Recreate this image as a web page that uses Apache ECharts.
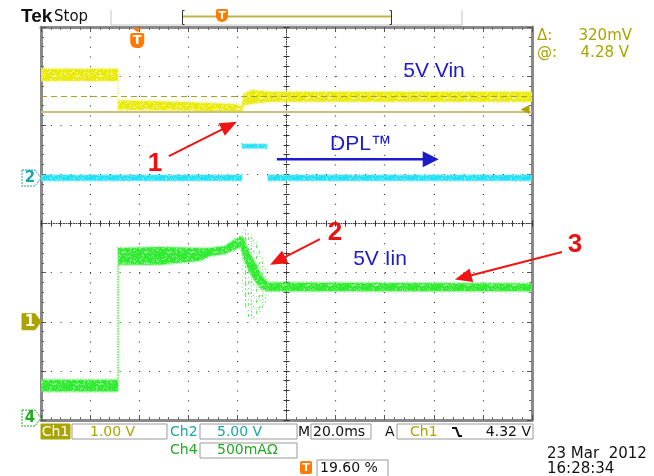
<!DOCTYPE html>
<html>
<head>
<meta charset="utf-8">
<script src="https://cdn.jsdelivr.net/npm/echarts@6/dist/echarts.min.js"></script>
<style>
  html, body { margin: 0; padding: 0; background: #ffffff; }
  #scope { width: 654px; height: 476px; }
</style>
</head>
<body>
<div id="scope"></div>
<script>
// Record: 20 ms/div across 10 divisions, time counted from the left edge of the screen (ms)
const timeSpan = [0, 200];
const trigPosPercent = 19.60;

// Ch1 - 5V input voltage (V, 1.00 V/div): noise envelope of the trace
const ch1Time = [0, 31.4, 31.4, 56.6, 79.4, 81.7, 82.5, 86.0, 90.0, 93.5, 200];
const ch1Hi   = [5.15, 5.15, 4.51, 4.48, 4.43, 4.38, 4.64, 4.72, 4.70, 4.68, 4.68];
const ch1Lo   = [4.90, 4.90, 4.31, 4.30, 4.28, 4.26, 4.40, 4.44, 4.46, 4.48, 4.48];

// Ch2 - DPL control signal (V, 5.00 V/div); null splits the trace
const ch2Time = [0, 81.9, null, 81.9, 92.0, null, 92.4, 200];
const ch2Hi   = [0.30, 0.30, null, 3.45, 3.45, null, 0.30, 0.30];
const ch2Lo   = [-0.28, -0.28, null, 3.02, 3.02, null, -0.28, -0.28];

// Ch4 - 5V input current (A, 500 mA/div)
const ch4Time = [0, 31.4, 31.4, 48.5, 64.8, 69.0, 75.0, 78.5, 81.3, 82.5, 85.0, 87.5, 90.0, 92.5, 200];
const ch4Hi   = [0.39, 0.39, 1.73, 1.74, 1.73, 1.73, 1.75, 1.81, 1.85, 1.83, 1.68, 1.57, 1.45, 1.38, 1.37];
const ch4Lo   = [0.27, 0.27, 1.56, 1.56, 1.60, 1.65, 1.67, 1.71, 1.74, 1.62, 1.48, 1.38, 1.31, 1.29, 1.29];
// sparse scatter while the current settles
const ch4ScatterTime = [82.0, 84.0, 88.0, 92.5];
const ch4ScatterHi   = [1.95, 1.90, 1.82, 1.45];
const ch4ScatterLo   = [1.30, 1.02, 1.00, 1.20];

// Cursor readout and trigger level (Ch1, V)
const cursorLevel = 4.28;
const cursorDelta = 0.32;
const trigLevel = 4.32;

// Callouts: [time ms, value in the channel's units]
const calloutNames = ['1', '2', '3'];
const calloutAxes  = ['ch1', 'ch4', 'ch4'];
const calloutText  = [[46.4, 3.22], [119.7, 1.88], [217.5, 1.76]];
const calloutTail  = [[52.1, 3.37], [113.6, 1.82], [212.2, 1.69]];
const calloutTip   = [[79.8, 4.07], [93.3, 1.56], [168.6, 1.41]];

// Blue captions
const captionNames = ['5V Vin', 'DPL\u2122', '5V Iin'];
const captionAxes  = ['ch1', 'ch1', 'ch4'];
const captionPos   = [[160.1, 5.10], [130.3, 3.62], [138.1, 1.62]];
const dplArrow     = [[96.1, 3.31], [162.0, 3.31]];

// Channel vertical scales (display ranges, 8 divisions each)
const ch1Range = [-2, 6];
const ch2Range = [-24.63, 15.37];
const ch4Range = [-0.02, 3.98];

const AXIS = { ch1: 4, ch2: 5, ch4: 6 };

const chart = echarts.init(document.getElementById('scope'), null, { renderer: 'canvas' });

// Phosphor-like fill: a small tile of fixed speckles in the trace colour
function speckle(core, light, transparentBase) {
  const w = 23, h = 11;
  const c = document.createElement('canvas');
  c.width = w; c.height = h;
  const ctx = c.getContext('2d');
  if (!transparentBase) { ctx.fillStyle = core; ctx.fillRect(0, 0, w, h); }
  for (let x = 0; x < w; x++) {
    for (let y = 0; y < h; y++) {
      const k = (Math.imul(x + 7, 374761393) ^ Math.imul(y + 3, 668265263)) >>> 0;
      const m = (k >>> 13) % 9;
      if (transparentBase) {
        if (x % 3 === 0 && m < 3) { ctx.fillStyle = core; ctx.fillRect(x, y, 1, 1); }
        else if (m === 4) { ctx.fillStyle = light; ctx.fillRect(x, y, 1, 1); }
      } else if (m < 2) { ctx.fillStyle = light; ctx.fillRect(x, y, 1, 1); }
    }
  }
  return { image: c, repeat: 'repeat' };
}

const frame = { color: '#8a8a8a', width: 3 };
const dots = { color: '#303030', width: 1.2, type: [1, 8.825] };
const centreDots = { color: '#3a3a3a', width: 1, type: [1, 1.5] };

function baseX(o) {
  return Object.assign({
    type: 'value', min: timeSpan[0], max: timeSpan[1], interval: 20, silent: true,
    axisLabel: { show: false }, splitLine: { show: false },
    axisTick: { show: false }, minorTick: { show: false },
    axisLine: { show: false, onZero: false }
  }, o);
}
function baseY(o) {
  return Object.assign({
    type: 'value', min: -4, max: 4, interval: 1, silent: true,
    axisLabel: { show: false }, splitLine: { show: false },
    axisTick: { show: false }, minorTick: { show: false },
    axisLine: { show: false, onZero: false }
  }, o);
}
function chanY(range) {
  return { type: 'value', min: range[0], max: range[1], show: false, silent: true,
           axisLine: { onZero: false }, splitLine: { show: false } };
}
const edgeTick = { show: true, inside: true, length: 5, lineStyle: { color: '#555' } };
const edgeMinor = { show: true, splitNumber: 5, length: 3, lineStyle: { color: '#6a6a6a' } };
const midTickIn = { show: true, inside: true, length: 3, lineStyle: { color: '#333' } };
const midTickOut = { show: true, inside: false, length: 3, lineStyle: { color: '#333' } };
const midMinor = { show: true, splitNumber: 5, length: 3, lineStyle: { color: '#333' } };

// One noisy trace drawn as its envelope polygon(s)
function bandSeries(name, axis, t, hi, lo, fill, edge, edgeWidth, z) {
  const segs = [];
  let cur = [];
  for (let i = 0; i < t.length; i++) {
    if (t[i] === null) { if (cur.length) segs.push(cur); cur = []; continue; }
    cur.push(i);
  }
  if (cur.length) segs.push(cur);
  return {
    type: 'custom', name: name, xAxisIndex: 0, yAxisIndex: AXIS[axis],
    clip: true, silent: true, z: z, animation: false,
    data: [[t[0], hi[0]]],
    renderItem: function (params, api) {
      const children = segs.map(function (idx) {
        const pts = [];
        idx.forEach(function (i) { pts.push(api.coord([t[i], hi[i]])); });
        idx.slice().reverse().forEach(function (i) { pts.push(api.coord([t[i], lo[i]])); });
        return { type: 'polygon', shape: { points: pts },
                 style: { fill: fill, stroke: edge, lineWidth: edgeWidth, lineDash: [1, 1.6] } };
      });
      return { type: 'group', children: children };
    }
  };
}

chart.setOption({
  animation: false,
  backgroundColor: '#ffffff',
  grid: { left: 41, top: 27, width: 491, height: 393 },
  xAxis: [
    baseX({ position: 'bottom', axisLine: { show: true, onZero: false, lineStyle: frame },
            axisTick: edgeTick, minorTick: edgeMinor, splitLine: { show: true, lineStyle: dots } }),
    baseX({ position: 'top', axisLine: { show: true, onZero: false, lineStyle: frame },
            axisTick: edgeTick, minorTick: edgeMinor }),
    baseX({ position: 'bottom', offset: -196.5,
            axisLine: { show: true, onZero: false, lineStyle: centreDots },
            axisTick: midTickIn, minorTick: midMinor }),
    baseX({ position: 'bottom', offset: -196.5, axisTick: midTickOut, minorTick: midMinor })
  ],
  yAxis: [
    baseY({ position: 'left', axisLine: { show: true, onZero: false, lineStyle: frame },
            axisTick: edgeTick, minorTick: edgeMinor, splitLine: { show: true, lineStyle: dots } }),
    baseY({ position: 'right', axisLine: { show: true, onZero: false, lineStyle: frame },
            axisTick: edgeTick, minorTick: edgeMinor }),
    baseY({ position: 'left', offset: -245.5,
            axisLine: { show: true, onZero: false, lineStyle: centreDots },
            axisTick: midTickIn, minorTick: midMinor }),
    baseY({ position: 'left', offset: -245.5, axisTick: midTickOut, minorTick: midMinor }),
    chanY(ch1Range),
    chanY(ch2Range),
    chanY(ch4Range)
  ],
  series: [
    bandSeries('Ch1', 'ch1', ch1Time, ch1Hi, ch1Lo,
               speckle('#eaea08', '#f6f680'), 'rgba(240,240,90,0.8)', 2.5, 4),
    bandSeries('Ch2', 'ch2', ch2Time, ch2Hi, ch2Lo,
               speckle('#22e2f6', '#80eefa'), 'rgba(90,230,248,0.85)', 2, 4),
    bandSeries('Ch4 scatter', 'ch4', ch4ScatterTime, ch4ScatterHi, ch4ScatterLo,
               speckle('rgba(60,225,60,0.75)', 'rgba(130,240,130,0.6)', true), 'rgba(0,0,0,0)', 0, 3),
    bandSeries('Ch4', 'ch4', ch4Time, ch4Hi, ch4Lo,
               speckle('#2eec2e', '#90f890'), 'rgba(100,238,100,0.85)', 2.5, 4),
    {
      type: 'line', name: 'cursors', xAxisIndex: 0, yAxisIndex: AXIS.ch1, data: [], z: 6,
      markLine: {
        silent: true, symbol: 'none', animation: false, label: { show: false },
        data: [
          { yAxis: cursorLevel, lineStyle: { color: '#c8c27a', width: 2, type: 'solid' } },
          { yAxis: cursorLevel + cursorDelta, lineStyle: { color: '#a8a228', width: 1.2, type: [6, 4] } }
        ]
      },
      markPoint: {
        silent: true, animation: false, label: { show: false },
        data: [{ coord: [timeSpan[1], trigLevel], symbol: 'triangle', symbolRotate: 90,
                 symbolSize: [9, 9], symbolOffset: [-7, 0], itemStyle: { color: '#a8a400' } }]
      }
    }
  ]
});

// ---------- overlays placed through the axis scales ----------
function px(axis, p) {
  return chart.convertToPixel({ xAxisIndex: 0, yAxisIndex: AXIS[axis] }, p);
}
function txt(x, y, s, font, color, align) {
  return {
    type: 'text', x: x, y: y, silent: true, z: 30,
    style: { text: s, font: font, fill: color, align: align || 'left', textAlign: align || 'left',
             verticalAlign: 'middle', textVerticalAlign: 'middle' }
  };
}
function box(x, y, w, h, fill, stroke) {
  return { type: 'rect', silent: true, z: 25, shape: { x: x, y: y, width: w, height: h },
           style: { fill: fill || '#fff', stroke: stroke || '#9a9a9a', lineWidth: 1 } };
}
function arrow(p0, p1, color, width, headLen, headHalf) {
  const dx = p1[0] - p0[0], dy = p1[1] - p0[1];
  const L = Math.sqrt(dx * dx + dy * dy), ux = dx / L, uy = dy / L;
  const bx = p1[0] - ux * headLen, by = p1[1] - uy * headLen;
  return [
    { type: 'line', silent: true, z: 30, shape: { x1: p0[0], y1: p0[1], x2: bx + ux, y2: by + uy },
      style: { stroke: color, lineWidth: width } },
    { type: 'polygon', silent: true, z: 30,
      shape: { points: [[p1[0], p1[1]], [bx - uy * headHalf, by + ux * headHalf], [bx + uy * headHalf, by - ux * headHalf]] },
      style: { fill: color } }
  ];
}
function chanTag(y, label, fill, stroke, textColor) {
  const x0 = 22, x1 = 41;
  return [
    { type: 'polygon', silent: true, z: 30,
      shape: { points: [[x0, y - 8], [x1 - 6, y - 8], [x1, y], [x1 - 6, y + 8], [x0, y + 8]] },
      style: { fill: fill, stroke: stroke, lineWidth: 1, lineDash: fill === '#ffffff' ? [2, 1] : null } },
    txt(x0 + 8, y + 0.5, label, 'bold 15px "DejaVu Sans"', textColor, 'center')
  ];
}
function trigFlag(x, yTop, big) {
  const w = big ? 14 : 12, h = big ? 15 : 13;
  const out = [];
  if (big) {
    out.push({ type: 'polygon', silent: true, z: 30,
      shape: { points: [[x - 5, yTop], [x + 5, yTop], [x, yTop + 4]] }, style: { fill: '#ff7a00' } });
    yTop += 5;
  }
  out.push({ type: 'rect', silent: true, z: 30,
    shape: { x: x - w / 2, y: yTop, width: w, height: h, r: [2, 2, 6, 6] }, style: { fill: '#ff7a00' } });
  out.push(txt(x, yTop + h / 2 + 0.5, 'T', 'bold ' + (big ? 13 : 11) + 'px "DejaVu Sans"', '#ffffff', 'center'));
  return out;
}

const g = [];

// header: logo, run state, record bar
g.push(txt(21, 17, 'Tek', 'bold 19px "Liberation Sans"', '#111111', 'left'));
g.push(txt(54, 17, 'Stop', '15px "DejaVu Sans"', '#111111', 'left'));
g.push({ type: 'polyline', silent: true, z: 20, shape: { points: [[111, 10], [111, 25], [462, 25], [462, 10]] },
         style: { stroke: '#c4c4c4', lineWidth: 1, fill: null } });
g.push({ type: 'polyline', silent: true, z: 21, shape: { points: [[184.5, 10.5], [182.5, 10.5], [182.5, 24.5], [184.5, 24.5]] },
         style: { stroke: '#333', lineWidth: 1, fill: null } });
g.push({ type: 'polyline', silent: true, z: 21, shape: { points: [[389.5, 10.5], [391.5, 10.5], [391.5, 24.5], [389.5, 24.5]] },
         style: { stroke: '#333', lineWidth: 1, fill: null } });
g.push({ type: 'line', silent: true, z: 21, shape: { x1: 183, y1: 16.5, x2: 391, y2: 16.5 },
         style: { stroke: '#bdb54a', lineWidth: 2 } });
trigFlag(222, 9, false).forEach(function (e) { g.push(e); });

// trigger position flag on the graticule
const trigT = timeSpan[0] + (timeSpan[1] - timeSpan[0]) * trigPosPercent / 100;
const trigX = chart.convertToPixel({ xAxisIndex: 0 }, trigT);
trigFlag(trigX, 28, true).forEach(function (e) { g.push(e); });

// channel ground markers
chanTag(chart.convertToPixel({ yAxisIndex: AXIS.ch2 }, 0), '2', '#ffffff', '#1aa6a6', '#1aa6a6').forEach(function (e) { g.push(e); });
chanTag(chart.convertToPixel({ yAxisIndex: AXIS.ch1 }, 0), '1', '#aaa400', '#aaa400', '#ffffff').forEach(function (e) { g.push(e); });
chanTag(chart.convertToPixel({ yAxisIndex: AXIS.ch4 }, 0), '4', '#ffffff', '#22aa22', '#22aa22').forEach(function (e) { g.push(e); });

// cursor readout
g.push(txt(537, 36, '\u0394:', '15px "DejaVu Sans"', '#aaa400', 'left'));
g.push(txt(632, 36, '320mV', '15px "DejaVu Sans"', '#aaa400', 'right'));
g.push(txt(537, 53, '@:', '15px "DejaVu Sans"', '#aaa400', 'left'));
g.push(txt(629, 53, '4.28 V', '15px "DejaVu Sans"', '#aaa400', 'right'));

// captions
captionNames.forEach(function (s, i) {
  const p = px(captionAxes[i], captionPos[i]);
  g.push(txt(p[0], p[1], s, '21px "Liberation Sans"', '#1c1ccc', 'center'));
});
arrow(px('ch1', dplArrow[0]), px('ch1', dplArrow[1]), '#1c1cc8', 2.5, 16, 8).forEach(function (e) { g.push(e); });

// red callouts
calloutNames.forEach(function (s, i) {
  const a = calloutAxes[i];
  arrow(px(a, calloutTail[i]), px(a, calloutTip[i]), '#f01414', 2, 17, 7).forEach(function (e) { g.push(e); });
  const p = px(a, calloutText[i]);
  g.push(txt(p[0], p[1], s, 'bold 26px "Liberation Sans"', '#ee1111', 'center'));
});

// bottom status line
const f14 = '14px "DejaVu Sans"';
g.push(box(41, 424, 29, 15, '#aaa400', '#aaa400'));
g.push(txt(55.5, 432, 'Ch1', f14, '#ffffff', 'center'));
g.push(box(72, 424, 95, 15));
g.push(txt(90, 432, '1.00 V', f14, '#aaa400', 'left'));
g.push(txt(170, 432, 'Ch2', f14, '#1aa6a6', 'left'));
g.push(box(200, 424, 97, 15));
g.push(txt(217, 432, '5.00 V', f14, '#1aa6a6', 'left'));
g.push(txt(298, 432, 'M', f14, '#111111', 'left'));
g.push(box(311, 424, 60, 15));
g.push(txt(313, 432, '20.0ms', f14, '#111111', 'left'));
g.push(txt(385, 432, 'A', f14, '#111111', 'left'));
g.push(box(397, 424, 136, 15));
g.push(txt(410, 432, 'Ch1', f14, '#aaa400', 'left'));
g.push({ type: 'polyline', silent: true, z: 30, shape: { points: [[452, 428], [456, 428], [459, 436], [462, 436]] },
         style: { stroke: '#111', lineWidth: 2, fill: null } });
g.push(txt(531, 432, '4.32 V', f14, '#111111', 'right'));
g.push(txt(170, 450, 'Ch4', f14, '#22aa22', 'left'));
g.push(box(200, 443, 97, 15));
g.push(txt(217, 450.5, '500mA\u03a9', f14, '#22aa22', 'left'));
g.push({ type: 'rect', silent: true, z: 30, shape: { x: 300, y: 461, width: 12, height: 13, r: 2 }, style: { fill: '#ff7a00' } });
g.push(txt(306, 468, 'T', 'bold 11px "DejaVu Sans"', '#ffffff', 'center'));
g.push(box(317, 460, 71, 17));
g.push(txt(320, 468.5, '19.60 %', f14, '#111111', 'left'));
g.push(txt(547, 454, '23 Mar  2012', '15px "DejaVu Sans"', '#111111', 'left'));
g.push(txt(547, 469, '16:28:34', '15px "DejaVu Sans"', '#111111', 'left'));

chart.setOption({ graphic: { elements: g } });
</script>
</body>
</html>
